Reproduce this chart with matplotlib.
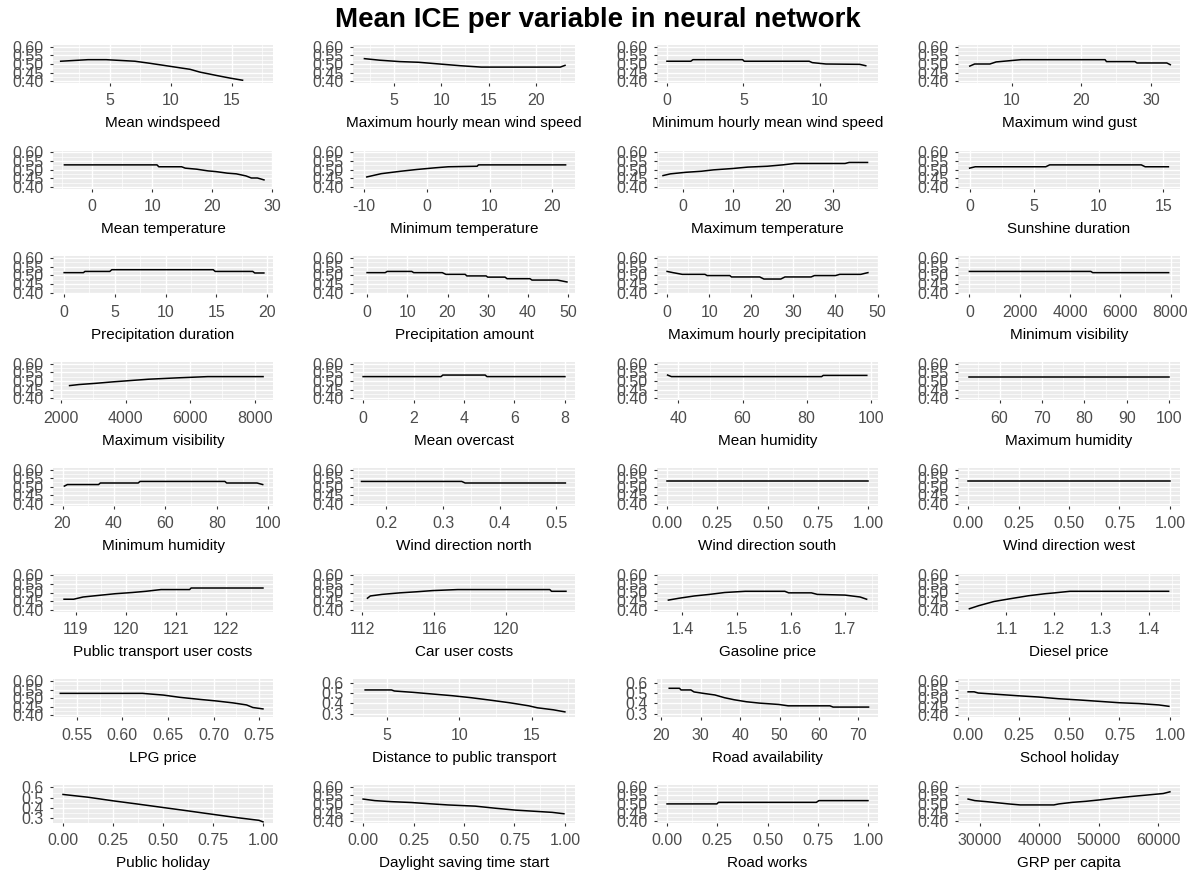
import matplotlib
matplotlib.use("Agg")
import matplotlib.pyplot as plt
import numpy as np

plt.rcParams['font.family'] = ['Liberation Sans', 'DejaVu Sans']

# Panel titles (x axis labels), row by row
labels = [
    "Mean windspeed", "Maximum hourly mean wind speed", "Minimum hourly mean wind speed", "Maximum wind gust",
    "Mean temperature", "Minimum temperature", "Maximum temperature", "Sunshine duration",
    "Precipitation duration", "Precipitation amount", "Maximum hourly precipitation", "Minimum visibility",
    "Maximum visibility", "Mean overcast", "Mean humidity", "Maximum humidity",
    "Minimum humidity", "Wind direction north", "Wind direction south", "Wind direction west",
    "Public transport user costs", "Car user costs", "Gasoline price", "Diesel price",
    "LPG price", "Distance to public transport", "Road availability", "School holiday",
    "Public holiday", "Daylight saving time start", "Road works", "GRP per capita",
]

# Mean ICE curves: x values
xs = [
    [0.96, 3.2, 4.7, 7.06, 8.3, 10, 11.6, 12.4, 13.8, 14.9, 15.9],
    [1.9, 3.5, 5.6, 7.6, 9.8, 12, 14.2, 22.5, 23],
    [0, 1.56, 1.7, 4.95, 5.05, 9.3, 9.5, 10.4, 12.6, 13],
    [3.9, 4.6, 6.8, 7.7, 11.3, 23.4, 23.6, 27.7, 28, 32.3, 32.8],
    [-4.6, 10.8, 11.1, 14.9, 15.5, 17.4, 19.3, 20.6, 22.5, 24, 25.6, 26.5, 27.5, 28.6],
    [-9.6, -7.3, -4.2, -1.7, 1.3, 3.4, 8, 8.2, 22.1],
    [-4, -2.5, 0.6, 3.7, 6.1, 10, 13, 16.9, 20, 22.4, 32.5, 33.3, 37],
    [0, 0.44, 5.9, 6.2, 13.3, 13.6, 15.4],
    [0, 1.9, 2.05, 4.5, 4.7, 14.7, 14.9, 18.6, 18.8, 19.7],
    [0, 4.5, 5, 11.1, 11.6, 18.7, 19.6, 24.4, 24.8, 29.6, 30, 34.3, 34.8, 40.5, 41, 47.3, 49.7],
    [0, 1.4, 3.6, 9, 9.5, 14.9, 15.3, 22, 23, 27, 28, 34.2, 35, 40, 41, 46, 47.7],
    [0, 4830, 4906, 7925],
    [2263, 2549, 3063, 3634, 4206, 4720, 5634, 6549, 8263],
    [0, 3.09, 3.16, 4.84, 4.91, 8],
    [36.6, 37.8, 84.7, 85.2, 98.8],
    [52.8, 99.8],
    [20.7, 21.9, 34, 34.7, 49.4, 50.1, 83.1, 83.8, 95.6, 97.8],
    [0.156, 0.333, 0.339, 0.516],
    [0, 1],
    [0, 1],
    [118.77, 118.96, 119.15, 119.45, 119.79, 120.13, 120.4, 120.7, 121.27, 121.3, 122.73],
    [112.3, 112.46, 113.1, 114.1, 115, 115.9, 117.3, 122.4, 122.5, 123.3],
    [1.374, 1.394, 1.422, 1.45, 1.478, 1.516, 1.589, 1.596, 1.638, 1.649, 1.70, 1.728, 1.74],
    [1.022, 1.042, 1.074, 1.106, 1.146, 1.182, 1.202, 1.234, 1.442],
    [0.532, 0.622, 0.645, 0.663, 0.685, 0.703, 0.721, 0.736, 0.743, 0.754],
    [3.48, 5.3, 5.5, 6.8, 8.4, 9.5, 10.8, 12.1, 13.5, 14.8, 15.4, 16.5, 17.3],
    [22, 24.6, 25, 27.5, 28.3, 31.1, 33.6, 36, 38.5, 41.6, 44.9, 49.8, 52.2, 62.8, 63.6, 72.6],
    [0, 0.03, 0.05, 0.149, 0.249, 0.348, 0.448, 0.547, 0.647, 0.746, 0.846, 0.945, 0.995],
    [0, 0.125, 0.25, 0.375, 0.5, 0.625, 0.75, 0.875, 0.98, 1.0],
    [0, 0.058, 0.14, 0.24, 0.34, 0.42, 0.556, 0.655, 0.755, 0.854, 0.937, 0.995],
    [0, 0.248, 0.256, 0.743, 0.756, 1],
    [28023, 29153, 31130, 33107, 34802, 36780, 42429, 43277, 45537, 47797, 50056, 52316, 55141, 57966, 60791, 61921],
]

# Mean ICE curves: y values
ys = [
    [0.516, 0.525, 0.525, 0.516, 0.504, 0.486, 0.469, 0.453, 0.433, 0.418, 0.406],
    [0.531, 0.522, 0.514, 0.510, 0.500, 0.490, 0.482, 0.482, 0.492],
    [0.516, 0.516, 0.525, 0.525, 0.516, 0.516, 0.508, 0.500, 0.498, 0.490],
    [0.488, 0.500, 0.500, 0.512, 0.525, 0.525, 0.514, 0.514, 0.506, 0.506, 0.496],
    [0.528, 0.528, 0.517, 0.517, 0.509, 0.503, 0.493, 0.489, 0.480, 0.476, 0.464, 0.452, 0.452, 0.441],
    [0.458, 0.477, 0.491, 0.501, 0.511, 0.517, 0.520, 0.528, 0.528],
    [0.466, 0.476, 0.485, 0.491, 0.499, 0.507, 0.515, 0.520, 0.528, 0.536, 0.536, 0.542, 0.542],
    [0.509, 0.517, 0.517, 0.528, 0.528, 0.517, 0.517],
    [0.516, 0.516, 0.523, 0.523, 0.533, 0.533, 0.523, 0.523, 0.514, 0.514],
    [0.516, 0.516, 0.523, 0.523, 0.516, 0.516, 0.506, 0.506, 0.497, 0.497, 0.490, 0.490, 0.481, 0.481, 0.473, 0.473, 0.462],
    [0.523, 0.516, 0.506, 0.506, 0.499, 0.499, 0.491, 0.491, 0.479, 0.479, 0.491, 0.491, 0.499, 0.499, 0.506, 0.506, 0.516],
    [0.523, 0.523, 0.516, 0.516],
    [0.474, 0.480, 0.487, 0.496, 0.504, 0.511, 0.519, 0.526, 0.526],
    [0.526, 0.526, 0.535, 0.535, 0.526, 0.526],
    [0.535, 0.526, 0.526, 0.533, 0.533],
    [0.526, 0.526],
    [0.504, 0.513, 0.513, 0.522, 0.522, 0.531, 0.531, 0.522, 0.522, 0.513],
    [0.531, 0.531, 0.522, 0.522],
    [0.531, 0.531],
    [0.531, 0.531],
    [0.461, 0.461, 0.474, 0.483, 0.493, 0.500, 0.507, 0.517, 0.517, 0.526, 0.526],
    [0.467, 0.480, 0.489, 0.498, 0.504, 0.511, 0.517, 0.517, 0.507, 0.507],
    [0.456, 0.467, 0.480, 0.489, 0.500, 0.507, 0.507, 0.498, 0.498, 0.489, 0.485, 0.474, 0.461],
    [0.406, 0.424, 0.448, 0.463, 0.481, 0.493, 0.498, 0.507, 0.507],
    [0.528, 0.528, 0.518, 0.505, 0.493, 0.484, 0.473, 0.461, 0.446, 0.438],
    [0.529, 0.529, 0.519, 0.506, 0.487, 0.474, 0.455, 0.432, 0.406, 0.377, 0.358, 0.339, 0.319],
    [0.545, 0.545, 0.529, 0.529, 0.510, 0.494, 0.481, 0.455, 0.435, 0.416, 0.403, 0.390, 0.377, 0.377, 0.365, 0.365],
    [0.537, 0.537, 0.530, 0.522, 0.514, 0.507, 0.497, 0.490, 0.482, 0.474, 0.469, 0.461, 0.453],
    [0.532, 0.505, 0.470, 0.438, 0.405, 0.372, 0.338, 0.305, 0.280, 0.265],
    [0.528, 0.519, 0.513, 0.508, 0.500, 0.494, 0.487, 0.475, 0.464, 0.457, 0.451, 0.443],
    [0.500, 0.500, 0.509, 0.509, 0.519, 0.519],
    [0.528, 0.519, 0.513, 0.506, 0.500, 0.494, 0.494, 0.500, 0.509, 0.515, 0.523, 0.532, 0.542, 0.551, 0.560, 0.570],
]

unit_ticks = ["0.00", "0.25", "0.50", "0.75", "1.00"]
x_ticks = [
    ["5", "10", "15"], ["5", "10", "15", "20"], ["0", "5", "10"], ["10", "20", "30"],
    ["0", "10", "20", "30"], ["-10", "0", "10", "20"], ["0", "10", "20", "30"], ["0", "5", "10", "15"],
    ["0", "5", "10", "15", "20"], ["0", "10", "20", "30", "40", "50"], ["0", "10", "20", "30", "40", "50"],
    ["0", "2000", "4000", "6000", "8000"],
    ["2000", "4000", "6000", "8000"], ["0", "2", "4", "6", "8"], ["40", "60", "80", "100"],
    ["60", "70", "80", "90", "100"],
    ["20", "40", "60", "80", "100"], ["0.2", "0.3", "0.4", "0.5"], unit_ticks, unit_ticks,
    ["119", "120", "121", "122"], ["112", "116", "120"], ["1.4", "1.5", "1.6", "1.7"], ["1.1", "1.2", "1.3", "1.4"],
    ["0.55", "0.60", "0.65", "0.70", "0.75"], ["5", "10", "15"], ["20", "30", "40", "50", "60", "70"], unit_ticks,
    unit_ticks, unit_ticks, unit_ticks, ["30000", "40000", "50000", "60000"],
]

x_lims = [
    (0.33, 18.4), (0.7, 24.05), (-0.65, 13.8), (2.2, 34.2),
    (-6.5, 30.1), (-11.8, 23.6), (-5.2, 39.1), (-0.9, 16.3),
    (-1.1, 20.6), (-3.5, 51.7), (-2.4, 50.1), (-453, 8377),
    (1749, 8571), (-0.4, 8.4), (33.3, 102.3), (50.2, 102.5),
    (16.3, 101.8), (0.141, 0.533), (-0.05, 1.05), (-0.05, 1.05),
    (118.55, 122.93), (111.5, 123.8), (1.353, 1.761), (0.998, 1.466),
    (0.524, 0.765), (2.64, 18.0), (18.9, 75.0), (-0.05, 1.05),
    (-0.05, 1.05), (-0.05, 1.05), (-0.05, 1.05), (26328, 63616),
]

narrow_y = ["0.40", "0.45", "0.50", "0.55", "0.60"]
wide_y = ["0.3", "0.4", "0.5", "0.6"]
wide_panels = [25, 26, 28]
wide_lims = {25: (0.268, 0.632), 26: (0.268, 0.632), 28: (0.255, 0.625)}

# Layout of the grey panels in pixels (figure is 1196 x 876)
W, H = 1196, 876
col_left = [53, 353, 657, 958]
col_right = [273, 575, 878, 1180]
row_top0, row_pitch, panel_h = 45, 105.7, 38

fig = plt.figure(figsize=(W / 100, H / 100), dpi=100)
fig.patch.set_facecolor('white')


def minor_breaks(ticks, lo, hi):
    step = ticks[1] - ticks[0]
    m = np.arange(ticks[0] - step / 2, hi + step, step)
    return [v for v in m if lo <= v <= hi]


for i, label in enumerate(labels):
    r, c = divmod(i, 4)
    top = row_top0 + r * row_pitch
    ax = fig.add_axes([col_left[c] / W, 1 - (top + panel_h) / H,
                       (col_right[c] - col_left[c]) / W, panel_h / H])
    ax.set_facecolor('#EBEBEB')
    for s in ax.spines.values():
        s.set_visible(False)

    if i in wide_panels:
        ylab = wide_y
        ylim = wide_lims[i]
    else:
        ylab = narrow_y
        ylim = (0.39, 0.61)
    yt = [float(v) for v in ylab]
    xt = [float(v) for v in x_ticks[i]]
    xlim = x_lims[i]

    # grid: minor then major, white like ggplot's grey theme
    for v in minor_breaks(xt, *xlim):
        ax.axvline(v, color='white', lw=0.5, zorder=0.5)
    for v in minor_breaks(yt, *ylim):
        ax.axhline(v, color='white', lw=0.5, zorder=0.5)
    for v in xt:
        ax.axvline(v, color='white', lw=1.0, zorder=0.6)
    for v in yt:
        ax.axhline(v, color='white', lw=1.0, zorder=0.6)

    ax.plot(xs[i], ys[i], color='black', lw=1.1, zorder=2)

    ax.set_xlim(*xlim)
    ax.set_ylim(*ylim)
    ax.set_xticks(xt)
    ax.set_xticklabels(x_ticks[i])
    ax.set_yticks(yt)
    ax.set_yticklabels(ylab)
    ax.tick_params(axis='both', length=2.5, width=0.8, color='#333333',
                   labelcolor='#4D4D4D', labelsize=11.5)
    ax.tick_params(axis='x', pad=5)
    ax.tick_params(axis='y', pad=4)
    ax.set_xlabel(label, fontsize=11, color='black')
    ax.xaxis.set_label_coords(0.5, -0.88)

fig.text(0.5, 1 - 20 / H, "Mean ICE per variable in neural network",
         ha='center', va='center', fontsize=20, fontweight='bold')

fig.savefig("out.png", dpi=100)
